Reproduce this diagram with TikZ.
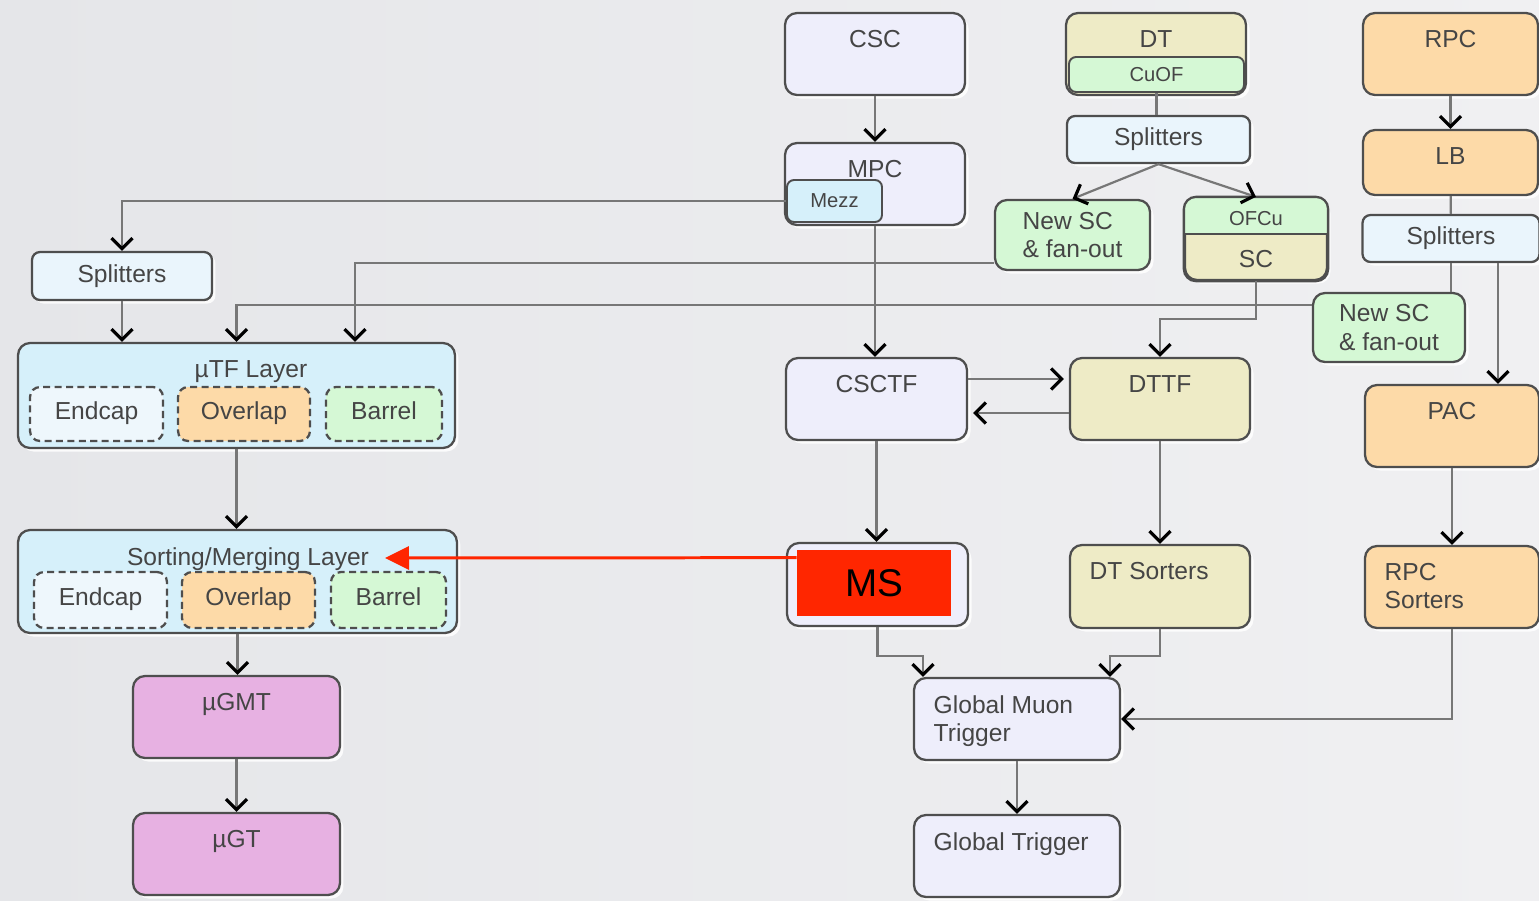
\documentclass[tikz,border=0pt]{standalone}
\usepackage{fontspec}
\setmainfont{Liberation Sans}
\usepackage{xcolor}
\usepackage{tikz}
\usetikzlibrary{arrows.meta, positioning, shadows, calc}

\definecolor{bgl}{HTML}{E5E6E9}
\definecolor{bgr}{HTML}{F0F0F2}
\definecolor{bd}{HTML}{4E4E4E}
\definecolor{lin}{HTML}{777777}
\definecolor{txt}{HTML}{454545}
\definecolor{lav}{HTML}{EEEEFB}
\definecolor{khk}{HTML}{EEEBC6}
\definecolor{grn}{HTML}{D5F8D5}
\definecolor{org}{HTML}{FDDAA8}
\definecolor{lblu}{HTML}{D6F0FA}
\definecolor{spl}{HTML}{EAF5FC}
\definecolor{endc}{HTML}{EEF7FC}
\definecolor{pnk}{HTML}{E7B1E2}
\definecolor{msred}{HTML}{FF2600}

\begin{document}
\begin{tikzpicture}[
            x=0.02cm, y=-0.02cm,
            font=\fontsize{14}{16}\selectfont, text=txt,
            blk/.style={draw=bd, line width=1.3pt, rounded corners=0.24cm, inner sep=0pt,
                drop shadow={shadow xshift=2pt, shadow yshift=-2pt, fill=white, opacity=0.85}},
            splt/.style={blk, fill=spl, rounded corners=0.16cm, minimum height=0.94cm},
            sub/.style={draw=bd, line width=1.3pt, dash pattern=on 4pt off 2.5pt,
                rounded corners=0.2cm, minimum height=1.08cm, inner sep=0pt,
                text height=1.6ex, text depth=0.4ex},
            ttl/.style={anchor=north, yshift=-0.36cm, inner sep=0pt},
            ttlw/.style={anchor=north west, xshift=0.41cm, yshift=-0.36cm, inner sep=0pt, align=left},
            smalltxt/.style={font=\fontsize{11.5}{13}\selectfont},
            lnk/.style={draw=lin, line width=1.25pt},
            arr/.style={lnk, -{Straight Barb[length=6pt, width=12pt, line width=1.8pt, color=black]}},
            redarr/.style={draw=msred, line width=1.7pt, -{Triangle[length=0.48cm, width=0.46cm]}}
        ]
            \useasboundingbox (0,0) rectangle (1539,900);
            \shade[left color=bgl, right color=bgr] (0,0) rectangle (1539,900);

            % CSC
            \node[blk, fill=lav, minimum width=3.6cm, minimum height=1.64cm, label={[ttl]north:CSC}] (csc) at (875,54) {};
            \node[blk, fill=lav, minimum width=3.6cm, minimum height=1.64cm, label={[ttl]north:MPC}] (mpc) at (875,184) {};
            \node[draw=bd, line width=1.1pt, fill=lblu, rounded corners=0.14cm, minimum width=1.9cm, minimum height=0.84cm, smalltxt] (mezz) at (834.5,201) {Mezz};

            % DT
            \node[blk, fill=khk, minimum width=3.6cm, minimum height=1.64cm, label={[ttl]north:DT}] (dt) at (1156,54) {};
            \node[draw=bd, line width=1.1pt, fill=grn, rounded corners=0.14cm, minimum width=3.5cm, minimum height=0.7cm, smalltxt] (cuof) at (1156.5,74.5) {CuOF};
            \node[splt, minimum width=3.66cm] (splitDT) at (1158.5,139.5) {Splitters};
            \node[blk, fill=grn, minimum width=3.1cm, minimum height=1.4cm, align=left] (nscDT) at (1072.5,235) {New SC\\\& fan-out};
            \node[blk, fill=khk, minimum width=2.84cm, minimum height=1.64cm] (sc) at (1256,239) {};
            \begin{scope}
                \clip[rounded corners=0.24cm] (sc.north west) rectangle (sc.south east);
                \fill[grn] (sc.north west) rectangle ([yshift=-0.74cm]sc.north east);
            \end{scope}
            \draw[bd, line width=1.1pt] ([yshift=-0.74cm]sc.north west) -- ([yshift=-0.74cm]sc.north east);
            \draw[bd, line width=1.3pt, rounded corners=0.24cm] (sc.north west) rectangle (sc.south east);
            \node[smalltxt] (ofcu) at ([yshift=-0.44cm]sc.north) {OFCu};
            \node (sctxt) at ([yshift=0.44cm]sc.south) {SC};

            % RPC
            \node[blk, fill=org, minimum width=3.5cm, minimum height=1.64cm, label={[ttl]north:RPC}] (rpc) at (1450.5,54) {};
            \node[blk, fill=org, minimum width=3.5cm, minimum height=1.3cm, label={[ttl]north:LB}] (lb) at (1450.5,162.5) {};
            \node[splt, minimum width=3.54cm] (splitRPC) at (1451,238.5) {Splitters};
            \node[blk, fill=grn, minimum width=3.04cm, minimum height=1.38cm, align=left] (nscRPC) at (1389,327.5) {New SC\\\& fan-out};
            \node[blk, fill=org, minimum width=3.48cm, minimum height=1.64cm, label={[ttl]north:PAC}] (pac) at (1452,426) {};
            \node[blk, fill=org, minimum width=3.48cm, minimum height=1.64cm, label={[ttlw]north west:{RPC\\Sorters}}] (rpcsort) at (1452,587) {};

            % track finders, sorters, global
            \node[blk, fill=lav, minimum width=3.62cm, minimum height=1.64cm, label={[ttl]north:CSCTF}] (csctf) at (876.5,399) {};
            \node[blk, fill=khk, minimum width=3.6cm, minimum height=1.64cm, label={[ttl]north:DTTF}] (dttf) at (1160,399) {};
            \node[blk, fill=lav, minimum width=3.62cm, minimum height=1.66cm] (ms) at (877.5,584.5) {};
            \node[fill=msred, minimum width=3.08cm, minimum height=1.32cm, inner sep=0pt, text=black, font=\fontsize{22}{24}\selectfont] (msred) at (874,583) {MS};
            \node[blk, fill=khk, minimum width=3.6cm, minimum height=1.66cm, label={[ttlw]north west:DT Sorters}] (dtsort) at (1160,586.5) {};
            \node[blk, fill=lav, minimum width=4.12cm, minimum height=1.64cm, label={[ttlw]north west:{Global Muon\\Trigger}}] (gmt) at (1017,719) {};
            \node[blk, fill=lav, minimum width=4.12cm, minimum height=1.64cm, label={[ttlw]north west:Global Trigger}] (gt) at (1017,856) {};

            % upgrade side
            \node[splt, minimum width=3.6cm, minimum height=0.96cm] (splitL) at (122,276) {Splitters};
            \node[blk, fill=lblu, minimum width=8.74cm, minimum height=2.1cm, label={[ttl, xshift=0.29cm]north:µTF Layer}] (utf) at (236.5,395.5) {};
            \node[sub, fill=endc, minimum width=2.66cm] (utfE) at (96.5,414) {Endcap};
            \node[sub, fill=org, minimum width=2.64cm] (utfO) at (244,414) {Overlap};
            \node[sub, fill=grn, minimum width=2.32cm] (utfB) at (384,414) {Barrel};
            \node[blk, fill=lblu, minimum width=8.78cm, minimum height=2.06cm, label={[ttl, xshift=0.21cm]north:Sorting/Merging Layer}] (sml) at (237.5,581.5) {};
            \node[sub, fill=endc, minimum width=2.66cm, minimum height=1.12cm] (smlE) at (100.5,600) {Endcap};
            \node[sub, fill=org, minimum width=2.66cm, minimum height=1.12cm] (smlO) at (248.5,600) {Overlap};
            \node[sub, fill=grn, minimum width=2.3cm, minimum height=1.12cm] (smlB) at (388.5,600) {Barrel};
            \node[blk, fill=pnk, minimum width=4.14cm, minimum height=1.64cm, label={[ttl]north:µGMT}] (ugmt) at (236.5,717) {};
            \node[blk, fill=pnk, minimum width=4.14cm, minimum height=1.64cm, label={[ttl]north:µGT}] (ugt) at (236.5,854) {};

            % connections
            \draw[arr] (csc) -- (mpc);
            \draw[arr] (mezz.west) -| (splitL.north);
            \draw[arr] (splitL.south) -- (splitL.south |- utf.north);
            \draw[arr] ([yshift=0.16cm]nscDT.south west) -| ([xshift=2.37cm]utf.north);
            \draw[arr] ([yshift=-0.26cm]nscRPC.north west) -| (utf.north);
            \draw[arr] (mpc.south) -- (mpc.south |- csctf.north);
            \draw[lnk] (cuof.south) -- (cuof.south |- splitDT.north);
            \draw[arr] (splitDT.south) -- (nscDT.north);
            \draw[arr] (splitDT.south) -- (sc.north);
            \draw[arr] (sc.south) -- ++(0,38) -| (dttf.north);
            \draw[arr] (rpc) -- (lb);
            \draw[lnk] (lb) -- (splitRPC);
            \draw[lnk] (splitRPC.south) -- (splitRPC.south |- nscRPC.north);
            \draw[arr] ([xshift=0.94cm]splitRPC.south) -- ([xshift=0.94cm]splitRPC.south |- pac.north);
            \draw[arr] (pac) -- (rpcsort);
            \draw[arr] (rpcsort.south) |- (gmt.east);
            \draw[arr] ([yshift=0.4cm]csctf.east) -- ([yshift=0.4cm, xshift=-0.1cm]dttf.west);
            \draw[arr] ([yshift=-0.28cm]dttf.west) -- ([yshift=-0.28cm, xshift=0.1cm]csctf.east);
            \draw[arr] (csctf.south) -- (csctf.south |- ms.north);
            \draw[arr] (dttf) -- (dtsort);
            \draw[arr] (ms.south) -- ++(0,29) -| ([xshift=-1.88cm]gmt.north);
            \draw[arr] (dtsort.south) -- ++(0,27) -| ([xshift=1.86cm]gmt.north);
            \draw[arr] (gmt) -- (gt);
            \draw[arr] (utf.south) -- (utf.south |- sml.north);
            \draw[arr] (sml.south) -- (sml.south |- ugmt.north);
            \draw[arr] (ugmt) -- (ugt);

            % MS feeds the sorting layer
            \coordinate (redtip) at (385,558);
            \draw[redarr] ([yshift=-0.16cm]msred.north west) -- (redtip);
        \end{tikzpicture}
\end{document}
